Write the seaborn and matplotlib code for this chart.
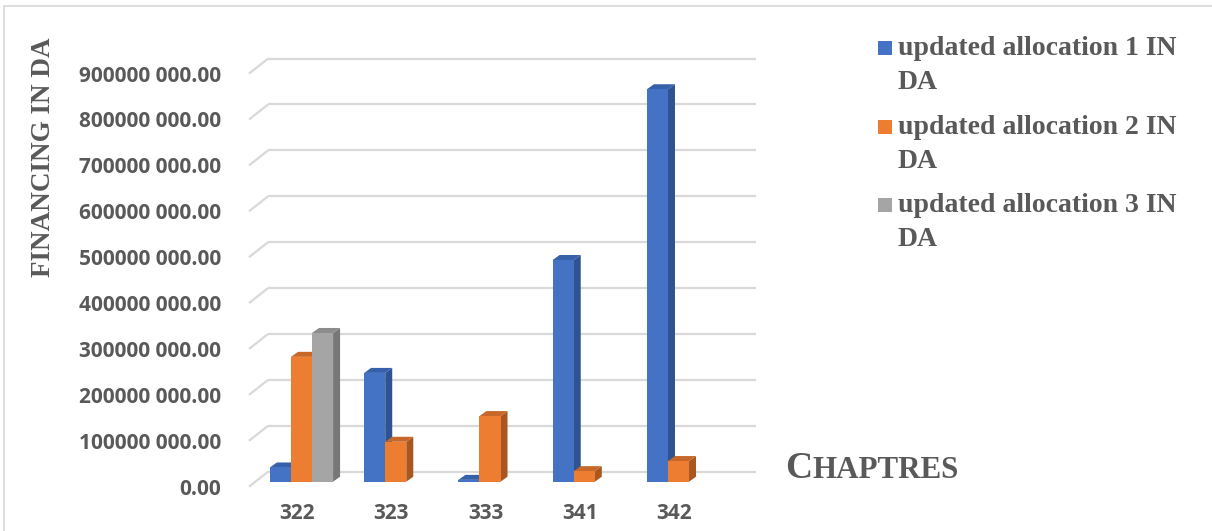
import matplotlib
matplotlib.use("Agg")
import numpy as np
import pandas as pd
import seaborn as sns
import matplotlib.pyplot as plt
from matplotlib.patches import Polygon, Rectangle
from matplotlib.lines import Line2D

# ---- data -------------------------------------------------------------
chapters = ["322", "323", "333", "341", "342"]
series = [
    "updated allocation 1 IN DA",
    "updated allocation 2 IN DA",
    "updated allocation 3 IN DA",
]
alloc_1 = [31e6, 237e6, 4e6, 483e6, 855e6]
alloc_2 = [272e6, 87e6, 143e6, 23e6, 45e6]
alloc_3 = [324e6, None, None, None, None]
y_ticks = [i * 100_000_000 for i in range(10)]

front_colors = ["#4472C4", "#ED7D31", "#A5A5A5"]
side_colors = ["#2F5290", "#A9561F", "#777777"]
top_colors = ["#3760AA", "#C8672A", "#8C8C8C"]
text_grey = "#595959"
grid_grey = "#D9D9D9"

rows = []
for name, vals in zip(series, [alloc_1, alloc_2, alloc_3]):
    for ch, v in zip(chapters, vals):
        if v is not None:
            rows.append({"chapter": ch, "series": name, "value": v})
df = pd.DataFrame(rows)


def tick_text(v):
    if v == 0:
        return "0.00"
    return f"{int(v // 1000)} {int(v % 1000):03d}.00"


# ---- figure -----------------------------------------------------------
sns.set_theme(style="white")
plt.rcParams["font.family"] = ["DejaVu Sans"]

W, H = 1212, 531
fig = plt.figure(figsize=(W / 100, H / 100), dpi=100)
fig.patch.set_facecolor("white")
ax = fig.add_axes([240 / W, (H - 495) / H, 550 / W, 455 / H])

sns.barplot(
    data=df, x="chapter", y="value", hue="series",
    order=chapters, hue_order=series, palette=front_colors,
    saturation=1, width=0.67, errorbar=None, legend=False,
    linewidth=0, zorder=3, ax=ax,
)

ax.set_xlim(-0.6525, 5.183)
ax.set_ylim(-28.98e6, 962.3e6)
for s in ax.spines.values():
    s.set_visible(False)
ax.set_xlabel("")
ax.set_ylabel("")
ax.grid(False)

# pixel -> data unit conversion
p0 = ax.transData.transform((0, 0))
ux = ax.transData.transform((1, 0))[0] - p0[0]
uy = ax.transData.transform((0, 1))[1] - p0[1]
DX, DY = 7 / ux, 5 / uy          # bar depth
back_off = 10 / uy               # back wall above bar base
front_off = 5 / uy               # front floor edge below bar base

# side and top faces of each bar
for cont, sc, tc in zip(ax.containers, side_colors, top_colors):
    for p in cont.patches:
        h = p.get_height()
        if h is None or np.isnan(h):
            continue
        x0, y0, w = p.get_x(), p.get_y(), p.get_width()
        side = [(x0 + w, y0), (x0 + w + DX, y0 + DY),
                (x0 + w + DX, y0 + h + DY), (x0 + w, y0 + h)]
        top = [(x0, y0 + h), (x0 + DX, y0 + h + DY),
               (x0 + w + DX, y0 + h + DY), (x0 + w, y0 + h)]
        ax.add_patch(Polygon(side, closed=True, facecolor=sc, edgecolor="none", zorder=2))
        ax.add_patch(Polygon(top, closed=True, facecolor=tc, edgecolor="none", zorder=2))

# back wall gridlines with a slanted floor edge
gx_front, gx_back, gx_end = -0.557, -0.355, 4.82
for v in y_ticks:
    ax.plot([gx_back, gx_end], [v + back_off] * 2, color=grid_grey, lw=1.6,
            zorder=1, solid_capstyle="butt")
    ax.plot([gx_front, gx_back], [v - front_off, v + back_off], color=grid_grey,
            lw=1.6, zorder=1, solid_capstyle="butt")

ax.set_yticks([v - front_off for v in y_ticks], labels=[tick_text(v) for v in y_ticks])
ax.set_xticks([i - 4.5 / ux for i in range(len(chapters))], labels=chapters)
for lbl in ax.get_yticklabels() + ax.get_xticklabels():
    lbl.set_fontfamily("Open Sans")
    lbl.set_fontweight("bold")
    lbl.set_fontsize(15)
    lbl.set_color(text_grey)
ax.tick_params(axis="y", length=0, pad=13.5)
ax.tick_params(axis="x", length=0, pad=5.5)

# axis titles
serif = "Liberation Serif"
fig.text(44 / W, 1 - 157.5 / H, "FINANCING IN DA", rotation=90, ha="center",
         va="center", family=serif, weight="bold", size=19.5, color=text_grey)

c_txt = fig.text(785 / W, 1 - 478 / H, "C", ha="left", va="baseline",
                 family=serif, weight="bold", size=27, color=text_grey)
fig.canvas.draw()
bb = c_txt.get_window_extent(fig.canvas.get_renderer())
fig.text(bb.x1 / W, 1 - 478 / H, "HAPTRES", ha="left", va="baseline",
         family=serif, weight="bold", size=22.3, color=text_grey)

# legend
for i, (name, col) in enumerate(zip(series, front_colors)):
    base = 55 + i * 78.5
    first, second = name.rsplit(" ", 1)
    fig.add_artist(Rectangle((878 / W, 1 - base / H), 14 / W, 14 / H,
                             transform=fig.transFigure, facecolor=col,
                             edgecolor="none"))
    fig.text(898 / W, 1 - base / H, first, ha="left", va="baseline",
             family=serif, weight="bold", size=20, color=text_grey)
    fig.text(898 / W, 1 - (base + 34) / H, second, ha="left", va="baseline",
             family=serif, weight="bold", size=20, color=text_grey)

# chart area frame (left and top edges)
fig.add_artist(Line2D([4 / W, 4 / W], [0, 1 - 6 / H], transform=fig.transFigure,
                      color=grid_grey, lw=1.2))
fig.add_artist(Line2D([4 / W, 1], [1 - 6 / H, 1 - 6 / H], transform=fig.transFigure,
                      color=grid_grey, lw=1.2))

fig.savefig("out.png", dpi=100, facecolor="white")
